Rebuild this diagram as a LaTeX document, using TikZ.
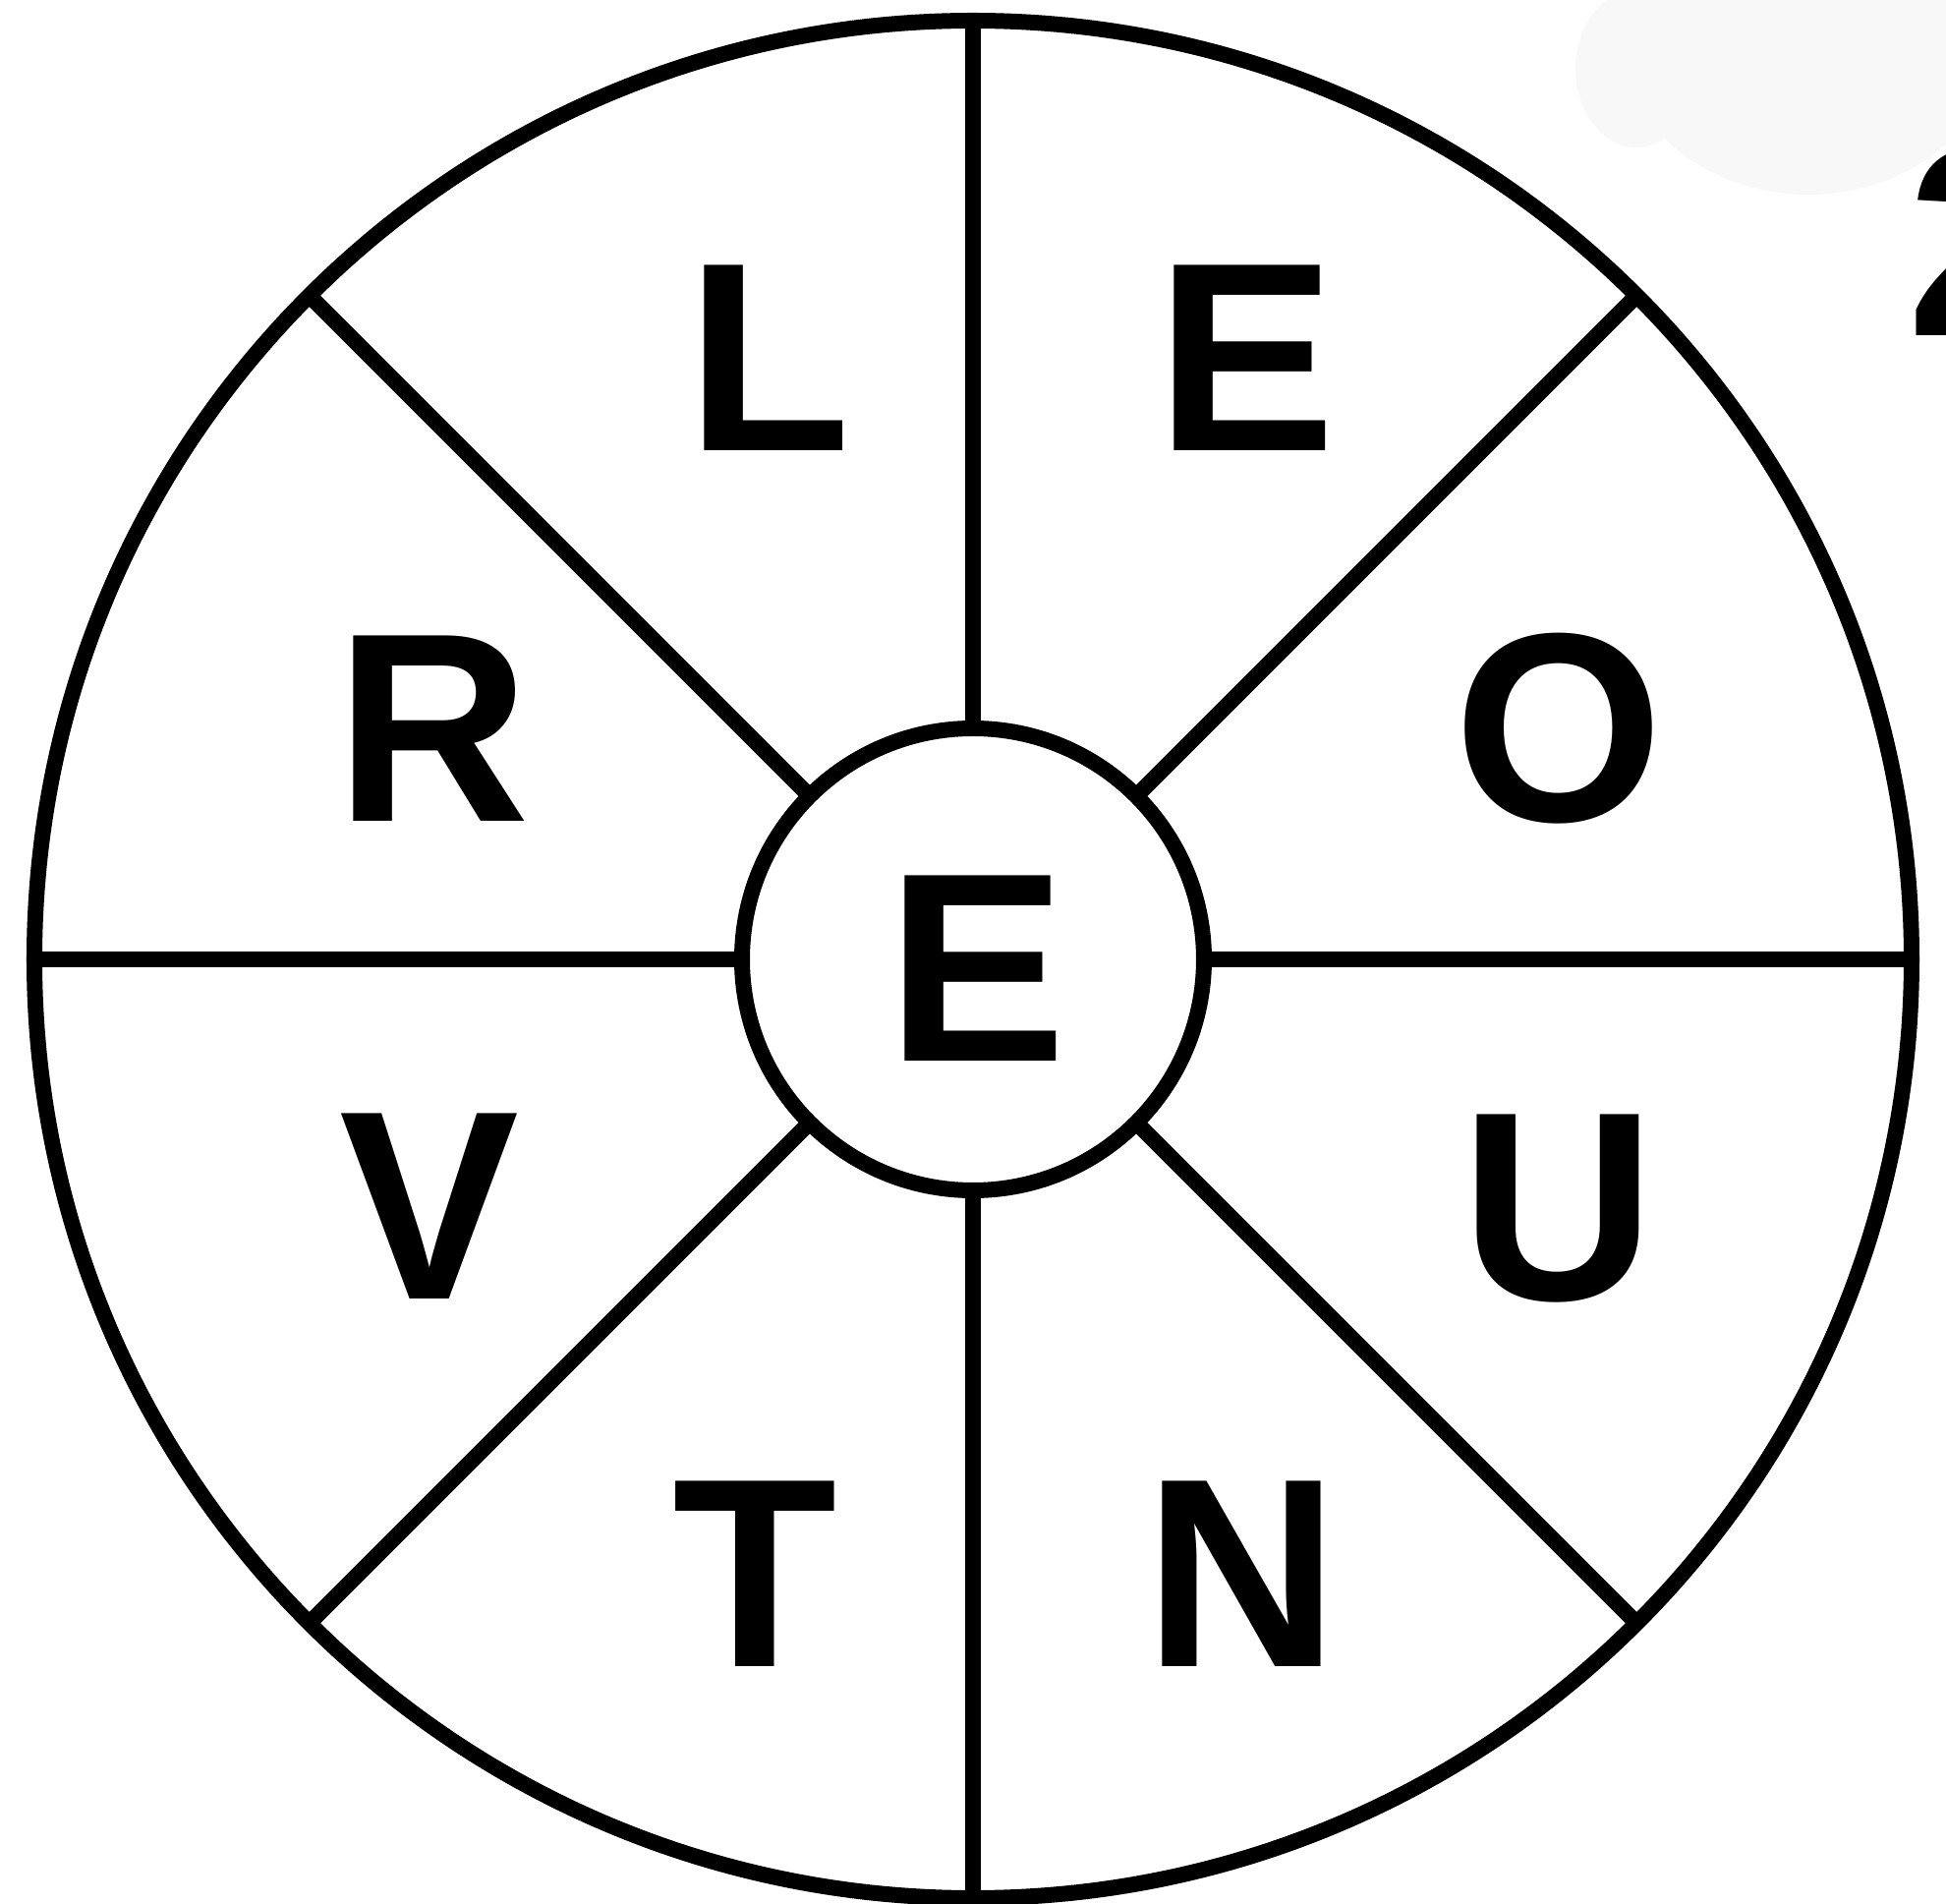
\documentclass[tikz,border=0pt]{standalone}
\usepackage{fontspec}
\setmainfont{Liberation Sans}
\usepackage{tikz}
\usetikzlibrary{positioning,calc}
\tikzset{
  wheelln/.style={draw=black, line width=0.16cm, circle, outer sep=0pt, inner sep=0pt},
  spokeln/.style={draw=black, line width=0.16cm},
  letter/.style={font=\fontsize{78}{84}\selectfont\bfseries, inner sep=0pt},
}
\definecolor{blobgray}{RGB}{248,248,249}

\begin{document}
\begin{tikzpicture}[scale=1.0]
    \useasboundingbox (-9.90,-9.61) rectangle (9.90,9.76);
    % faint smudge in the corner
    \fill[blobgray] (8.50,9.56) ellipse (2.0 and 1.78);
    \fill[blobgray] (6.75,9.06) ellipse (0.62 and 0.8);
    \node[letter, anchor=west] (cut) at (9.50,7.30) {2};
    % the wheel
    \node[wheelln, minimum size=19.1cm] (rim) at (0,0) {};
    \node[wheelln, minimum size=4.7cm] (hub) at (0,0) {};
    \node[letter] (mid) at (0.04,-0.09) {E};
    \foreach \a in {0,45,...,315}
      \draw[spokeln] (hub.\a) -- (rim.\a);
    % letters round the rim
    \node[letter] (l1) at (-2.08,6.12) {L};
    \node[letter] (l2) at (2.78,6.12) {E};
    \node[letter] (l3) at (5.96,2.35) {O};
    \node[letter] (l4) at (5.95,-2.54) {U};
    \node[letter] (l5) at (2.73,-6.25) {N};
    \node[letter] (l6) at (-2.22,-6.25) {T};
    \node[letter] (l7) at (-5.53,-2.51) {V};
    \node[letter] (l8) at (-5.50,2.35) {R};
  \end{tikzpicture}
\end{document}
